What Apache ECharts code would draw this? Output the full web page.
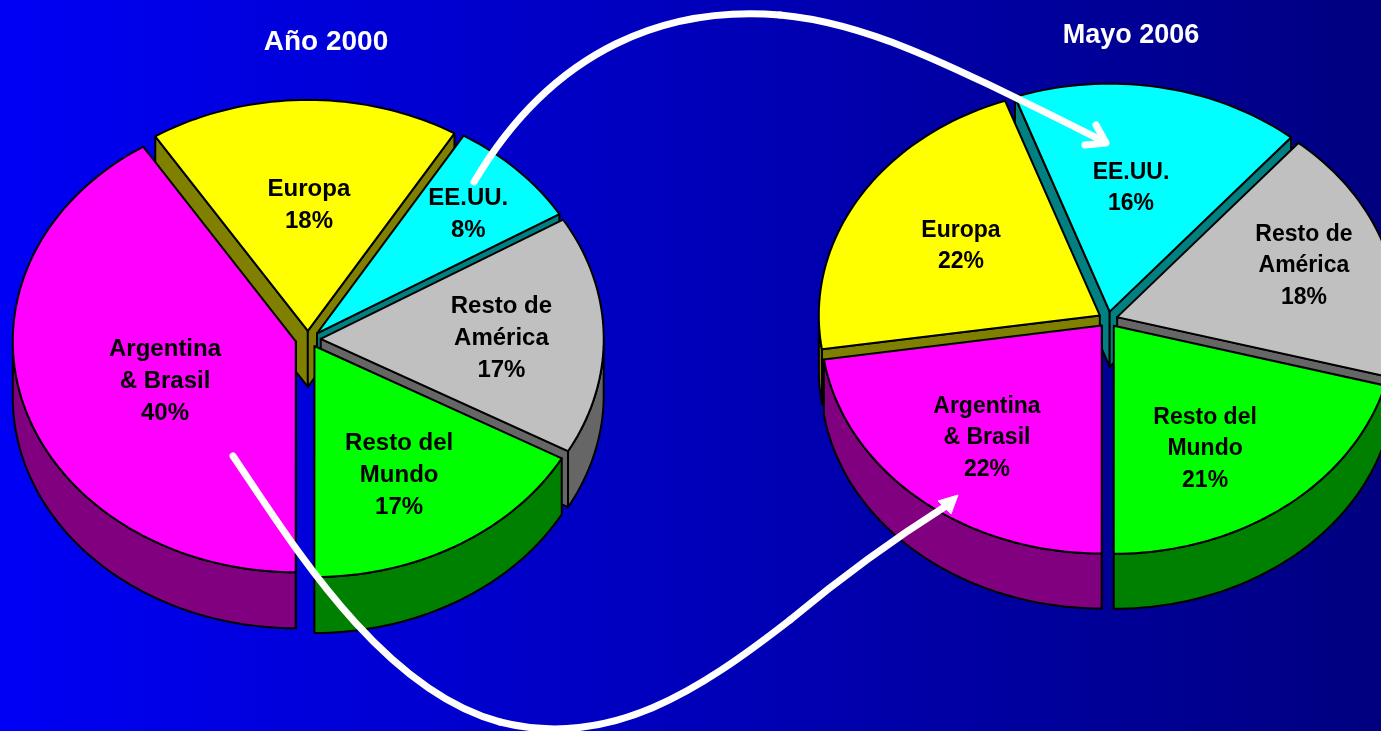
<!DOCTYPE html>
<html>
<head>
<meta charset="utf-8">
<style>html,body{margin:0;padding:0;background:#000080}#c{width:1381px;height:731px}</style>
<script src="https://cdn.jsdelivr.net/npm/echarts@6/dist/echarts.min.js"></script>
</head>
<body>
<div id="c"></div>
<script>
// ---- data ----
const categories = ['EE.UU.', 'Resto de\nAmérica', 'Resto del\nMundo', 'Argentina\n& Brasil', 'Europa'];
// slice sizes as measured on the picture; the printed labels are these rounded
const valuesAnio2000 = [7.6, 16.5, 16.7, 40.4, 17.5];
const valuesMayo2006 = [16.4, 17.8, 20.5, 22.3, 21.6];
const titles = ['Año 2000', 'Mayo 2006'];

// ---- style / layout (not data) ----
const topColors  = ['#00FFFF', '#C0C0C0', '#00FF00', '#FF00FF', '#FFFF00'];
const wallColors = ['#008080', '#666666', '#008000', '#800080', '#808000'];
const FONT = '"Liberation Sans", Arial, sans-serif';
const layoutLeft = {
  cx: 308, cy: 339, rx: 283, ry: 231, depth: 56, start: 31.2, explodeX: 0.045, explodeY: 0.035,
  fontSize: 24, lineHeight: 32,
  labelK: [0.78, 0.68, 0.66, 0.53, 0.58],
  nudge: [[4, 2.5], [1, 2], [-3.5, 4.5], [1, 7.5], [3, 0]]
};
const layoutRight = {
  cx: 1108, cy: 319.5, rx: 281, ry: 228, depth: 55, start: -19.7, explodeX: 0.034, explodeY: 0.035,
  fontSize: 23, lineHeight: 31.5,
  labelK: [0.58, 0.74, 0.66, 0.67, 0.62],
  nudge: [[-6, -1.4], [-2.6, -3.4], [-15.6, 9.9], [1.8, 2.7], [2.5, -0.8]]
};

function rad(d) { return d * Math.PI / 180; }

function buildSlices(values) {
  const total = values.reduce((a, b) => a + b, 0);
  let acc = 0;
  return values.map((v, i) => {
    const from = acc / total * 360;
    acc += v;
    return { i, v, from, to: acc / total * 360 };
  });
}

function pieSeries(values, L) {
  const slices = buildSlices(values);
  const mid = s => L.start + (s.from + s.to) / 2;
  // painter's order: the slices at the back come first
  const ordered = slices.slice().sort((a, b) => (-Math.cos(rad(mid(a)))) - (-Math.cos(rad(mid(b)))));
  return {
    type: 'custom',
    coordinateSystem: 'none',
    silent: true,
    animation: false,
    clip: false,
    data: ordered.map(s => [s.v, s.from, s.to, s.i]),
    renderItem: function (params, api) {
      const v = api.value(0), a0 = L.start + api.value(1), a1 = L.start + api.value(2), idx = api.value(3);
      const z = params.dataIndex * 10;
      const m = (a0 + a1) / 2;
      const ox = L.cx + L.explodeX * L.rx * Math.sin(rad(m));
      const oy = L.cy - L.explodeY * L.ry * Math.cos(rad(m));
      const pt = a => [ox + L.rx * Math.sin(rad(a)), oy - L.ry * Math.cos(rad(a))];
      const down = p => [p[0], p[1] + L.depth];
      const arc = [];
      const n = Math.ceil((a1 - a0) / 1.5);
      for (let k = 0; k <= n; k++) arc.push(a0 + (a1 - a0) * k / n);
      const tip = [ox, oy];
      const stroke = { stroke: '#000', lineWidth: 2, lineJoin: 'round' };
      const children = [];
      const poly = (points, fill, zz) => children.push({
        type: 'polygon', z2: zz, shape: { points },
        style: Object.assign({ fill }, stroke)
      });
      const wall = wallColors[idx];
      // radial walls: only those that face the viewer
      const pa = pt(a0), pb = pt(a1);
      if (Math.sin(rad(a0)) < 0) poly([tip, pa, down(pa), down(tip)], wall, z);
      if (Math.sin(rad(a1)) > 0) poly([tip, pb, down(pb), down(tip)], wall, z);
      // outer wall: only the front-facing part of the arc
      const front = arc.filter(a => Math.cos(rad(a)) <= 0).map(pt);
      if (front.length > 1) poly(front.concat(front.slice().reverse().map(down)), wall, z + 1);
      // top face
      poly([tip].concat(arc.map(pt)), topColors[idx], z + 2);
      // label
      const k = L.labelK[idx], nd = L.nudge[idx];
      children.push({
        type: 'text', z2: 500,
        style: {
          x: L.cx + k * L.rx * Math.sin(rad(m)) + nd[0],
          y: L.cy - k * L.ry * Math.cos(rad(m)) + nd[1],
          text: categories[idx] + '\n' + Math.round(v) + '%',
          fill: '#000',
          font: 'bold ' + L.fontSize + 'px ' + FONT,
          lineHeight: L.lineHeight,
          align: 'center',
          verticalAlign: 'middle'
        }
      });
      return { type: 'group', children };
    }
  };
}

const arrowStyle = { stroke: '#fff', fill: 'none', lineWidth: 7, lineCap: 'round', lineJoin: 'round' };
const curve = (x1, y1, cpx1, cpy1, cpx2, cpy2, x2, y2) => ({
  type: 'bezierCurve', z: 50, silent: true,
  shape: { x1, y1, cpx1, cpy1, cpx2, cpy2, x2, y2 },
  style: arrowStyle
});
const chart = echarts.init(document.getElementById('c'), null, { renderer: 'canvas', width: 1381, height: 731 });
chart.setOption({
  animation: false,
  backgroundColor: {
    type: 'linear', x: 0, y: 0, x2: 1, y2: 0,
    colorStops: [{ offset: 0, color: '#0000F5' }, { offset: 1, color: '#000080' }]
  },
  title: [
    { text: titles[0], left: 321, top: 37, textAlign: 'center', textVerticalAlign: 'middle',
      textStyle: { color: '#fff', fontFamily: FONT, fontWeight: 'bold', fontSize: 28 } },
    { text: titles[1], left: 1126, top: 31, textAlign: 'center', textVerticalAlign: 'middle',
      textStyle: { color: '#fff', fontFamily: FONT, fontWeight: 'bold', fontSize: 27 } }
  ],
  series: [pieSeries(valuesAnio2000, layoutLeft), pieSeries(valuesMayo2006, layoutRight)],
  graphic: [
    curve(474, 182, 555, 45, 670, 6, 780, 15),
    curve(780, 15, 870, 23, 950, 65, 1105, 142),
    { type: 'polyline', z: 50, silent: true,
      shape: { points: [[1096,125],[1106,143],[1085,145]] },
      style: arrowStyle },
    curve(233, 456, 290, 540, 380, 690, 500, 722),
    curve(500, 722, 610, 750, 700, 690, 790, 620),
    curve(790, 620, 850, 570, 900, 535, 946, 506),
    { type: 'polygon', z: 51, silent: true,
      shape: { points: [[958,495],[938,501],[951,514]] },
      style: { fill: '#fff', stroke: '#fff', lineWidth: 1 } }
  ]
});
</script>
</body>
</html>
